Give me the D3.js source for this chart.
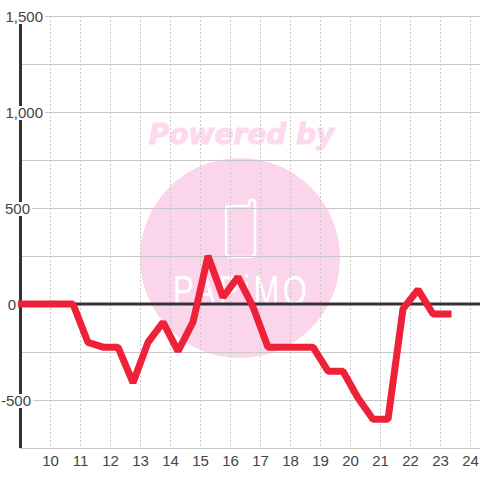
<!DOCTYPE html>
<html>
<head>
<meta charset="utf-8">
<script src="https://cdn.jsdelivr.net/npm/d3@7"></script>
<style>
  html, body { margin: 0; padding: 0; background: #fff; }
  text { font-family: "Liberation Sans", sans-serif; }
</style>
</head>
<body>
<svg id="chart" width="480" height="480"></svg>
<script>
var hours = [9, 9.25, 9.75, 10.25, 10.75, 11.25, 11.75, 12.25, 12.75, 13.25, 13.75, 14.25, 14.75, 15.25, 15.75, 16.25, 16.75, 17.25, 17.75, 18.25, 18.75, 19.25, 19.75, 20.25, 20.75, 21.25, 21.75, 22.25, 22.75, 23.25];
var values = [0, 0, 0, 0, 0, -200, -225, -225, -410, -200, -95, -245, -95, 250, 35, 140, -15, -225, -225, -225, -225, -350, -350, -490, -600, -600, -25, 75, -52, -52];
var xTicks = [10, 11, 12, 13, 14, 15, 16, 17, 18, 19, 20, 21, 22, 23, 24];
var yMajor = [1500, 1000, 500, 0, -500];
var yMinor = [1250, 750, 250, -250, -750];
var yLabels = ["1,500", "1,000", "500", "0", "-500"];

var x = d3.scaleLinear().domain([9, 24.33]).range([20.5, 480.4]);
var y = d3.scaleLinear().domain([-750, 1500]).range([448, 16]);

var svg = d3.select("#chart");

// watermark goes under the grid
var mark = svg.append("g");
mark.append("circle").attr("cx", 240).attr("cy", 258).attr("r", 100)
  .attr("fill", "#fbd5ec");
mark.append("text").attr("x", 241.5).attr("y", 144)
  .attr("text-anchor", "middle")
  .style("font-family", "DejaVu Sans")
  .style("font-size", "28px").style("font-weight", "bold").style("font-style", "italic")
  .attr("fill", "#fdd9ee").attr("stroke", "#fdd9ee").attr("stroke-width", 1)
  .text("Powered by");
mark.append("path")
  .attr("d", "M229 206H249V203Q249 200 252 200Q255 200 255 203V252Q255 257 250 257H231Q226 257 226 252V209Q226 206 229 206Z")
  .attr("fill", "none").attr("stroke", "#fff").attr("stroke-width", 2.5);
mark.append("text")
  .attr("transform", "translate(173,305) scale(0.72,1)")
  .style("font-size", "43px")
  .attr("textLength", 186)
  .attr("lengthAdjust", "spacing")
  .attr("fill", "#fff")
  .text("PAPiMO");

// vertical dotted grid
svg.append("g").selectAll("line").data(xTicks).enter().append("line")
  .attr("x1", function(d) { return x(d); })
  .attr("x2", function(d) { return x(d); })
  .attr("y1", 16).attr("y2", 448)
  .attr("stroke", "#c8c8c8")
  .attr("stroke-dasharray", "2,2");

// horizontal grid
svg.append("g").selectAll("line").data(yMajor.concat(yMinor)).enter().append("line")
  .attr("x1", 20).attr("x2", 480)
  .attr("y1", function(d) { return Math.round(y(d)) + 0.5; })
  .attr("y2", function(d) { return Math.round(y(d)) + 0.5; })
  .attr("stroke", "#c8c8c8");

// zero line
svg.append("line")
  .attr("x1", 20).attr("x2", 480)
  .attr("y1", y(0)).attr("y2", y(0))
  .attr("stroke", "#333").attr("stroke-width", 3);

// left axis
svg.append("line")
  .attr("x1", 20.5).attr("x2", 20.5)
  .attr("y1", 16).attr("y2", 448)
  .attr("stroke", "#333").attr("stroke-width", 3);

// series
var line = d3.line()
  .x(function(d) { return x(d[0]); })
  .y(function(d) { return y(d[1]); });

svg.append("path")
  .datum(d3.zip(hours, values))
  .attr("d", line)
  .attr("fill", "none")
  .attr("stroke", "#ee2138")
  .attr("stroke-width", 7)
  .attr("stroke-linecap", "square")
  .attr("stroke-linejoin", "bevel");

// y labels sit on a white box that cuts the axis
var labelEnd = { "1,500": 43, "1,000": 43, "500": 30, "0": 16, "-500": 31 };
var yLabel = svg.append("g").selectAll("g").data(d3.zip(yMajor, yLabels)).enter().append("g");
yLabel.append("rect")
  .attr("x", function(d) { return labelEnd[d[1]] - d[1].length * 8; })
  .attr("y", function(d) { return y(d[0]) - 6; })
  .attr("width", function(d) { return d[1].length * 8 + 2; })
  .attr("height", 14)
  .attr("fill", "#fff");
yLabel.append("text")
  .attr("x", function(d) { return labelEnd[d[1]]; })
  .attr("y", function(d) { return y(d[0]) + 6; })
  .attr("text-anchor", "end")
  .attr("fill", "#444")
  .style("font-size", "15px")
  .text(function(d) { return d[1]; });

// x labels
svg.append("g").selectAll("text").data(xTicks).enter().append("text")
  .attr("x", function(d) { return x(d); })
  .attr("y", 466)
  .attr("text-anchor", "middle")
  .attr("fill", "#444")
  .style("font-size", "15px")
  .text(function(d) { return d; });
</script>
</body>
</html>
